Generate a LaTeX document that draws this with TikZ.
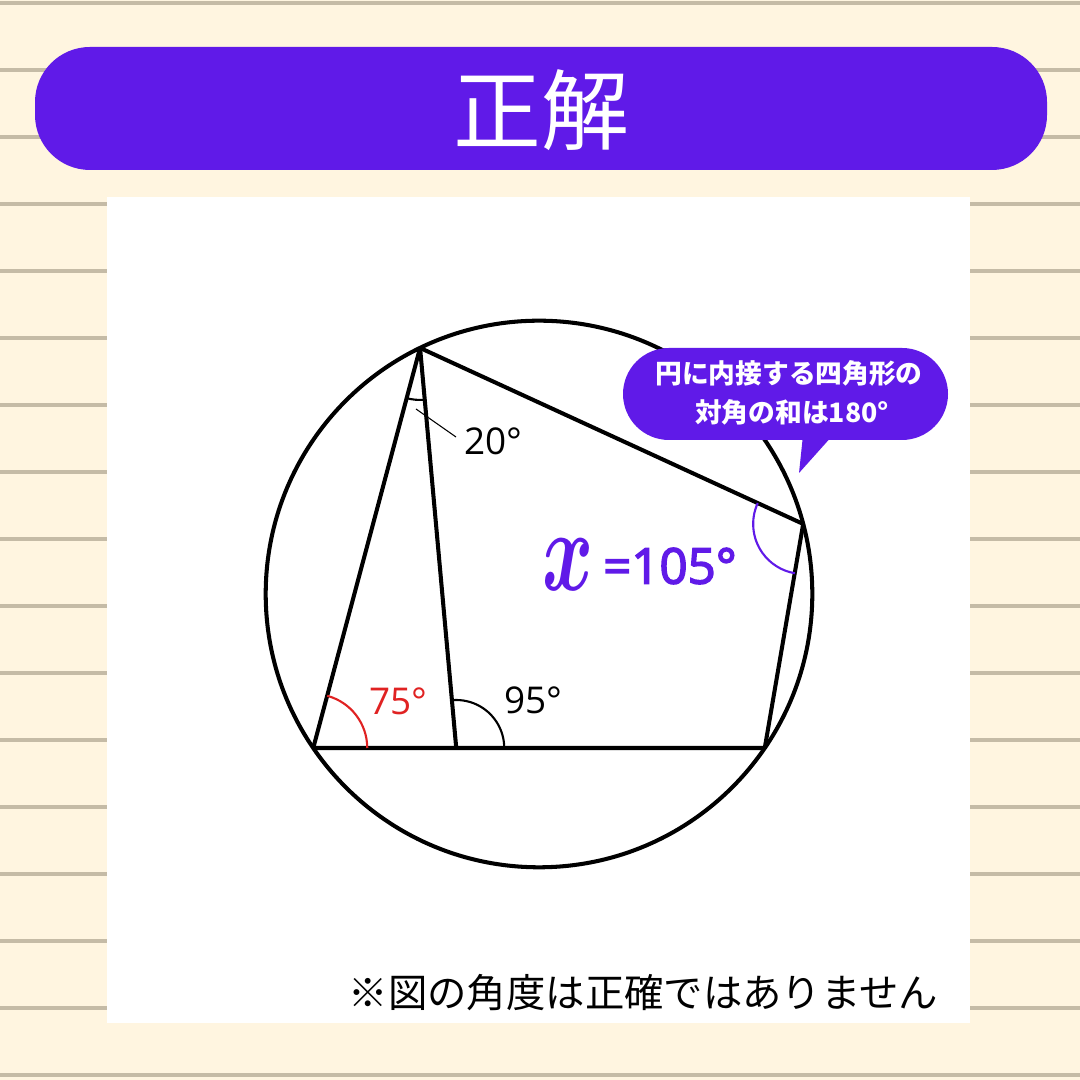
\documentclass[tikz,border=0pt]{standalone}
\usepackage{fix-cm}
\usepackage{fontspec}
\newfontfamily\jpfont{Noto Sans CJK JP}
\newfontfamily\numfont{Open Sans}
\newfontfamily\valuefont[FakeBold=3]{Open Sans}
\definecolor{paper}{HTML}{FFF5E0}
\definecolor{ruleline}{HTML}{C5BBA6}
\definecolor{answerpurple}{HTML}{601AE8}
\definecolor{anglered}{HTML}{E02222}
\tikzset{
    figline/.style={line width=1.15pt, black},
    anglearc/.style={line width=0.6pt},
    anglelabel/.style={font=\numfont\fontsize{10.5}{12}\selectfont, inner sep=0pt},
    bubbletext/.style={text=white, font=\jpfont\bfseries\fontsize{7.6}{9}\selectfont, inner sep=0pt}
}
\begin{document}
\begin{tikzpicture}
    \def\rad{2.733}
    \def\lines{16}

    % lined paper
    \fill[paper] (0,0) rectangle (10.8,10.8);
    \foreach \k in {0,1,...,\lines} {
        \fill[ruleline] (0,{10.79-0.67*\k}) rectangle (10.8,{10.75-0.67*\k});
    }
    \useasboundingbox (0,0) rectangle (10.8,10.8);

    % title bar
    \fill[answerpurple, rounded corners=0.55cm] (0.35,9.10) rectangle (10.47,10.33);
    \node[text=white, font=\jpfont\fontsize{25}{30}\selectfont] (title) at (5.41,9.70) {正解};

    % white sheet
    \fill[white] (1.07,0.57) rectangle (9.70,8.83);

    % circle and inscribed figure
    \coordinate (O) at (5.39,4.86);
    \path (O) ++(115.8:\rad) coordinate (A);
    \path (O) ++(214.3:\rad) coordinate (B);
    \path (O) ++(325.7:\rad) coordinate (D);
    \path (O) ++(14.85:\rad) coordinate (E);
    \path (B) ++(1.43,0) coordinate (C);

    \draw[figline] (O) circle[radius=\rad];
    \draw[figline, line join=round] (B) -- (A) -- (C);
    \draw[figline, line join=round] (B) -- (D) -- (E) -- (A);

    % angle marks
    \draw[anglearc] ([shift={(255:0.52)}]A) arc[start angle=255, end angle=275, radius=0.52];
    \draw[anglearc, anglered] ([shift={(0:0.54)}]B) arc[start angle=0, end angle=75, radius=0.54];
    \draw[anglearc] ([shift={(0:0.48)}]C) arc[start angle=0, end angle=95, radius=0.48];
    \draw[anglearc, answerpurple] ([shift={(155.3:0.5)}]E) arc[start angle=155.3, end angle=260.4, radius=0.5];

    \coordinate (lead1) at (4.16,6.71);
    \coordinate (lead2) at (4.56,6.43);
    \draw[line width=0.3pt] (lead1) -- (lead2);
    \node[anglelabel] (lbl20) at (4.93,6.39) {20°};
    \node[anglelabel, text=anglered] (lbl75) at (3.98,3.79) {75°};
    \node[anglelabel] (lbl95) at (5.33,3.80) {95°};

    % answer
    \node[text=answerpurple, font=\fontsize{33}{36}\selectfont, inner sep=0pt] (xvar) at (5.68,5.15) {\scalebox{0.67}[1]{\boldmath$x$}};
    \node[text=answerpurple, font=\valuefont\fontsize{14}{16}\selectfont, inner sep=0pt] (value) at (6.70,5.14) {=105°};

    % speech bubble
    \fill[answerpurple, rounded corners=0.46cm] (6.23,6.40) rectangle (9.48,7.32);
    \fill[answerpurple] (8.03,6.45) -- (7.99,6.07) -- (8.33,6.45) -- cycle;
    \node[bubbletext] (hint1) at (7.89,7.07) {円に内接する四角形の};
    \node[bubbletext] (hint2) at (7.92,6.68) {対角の和は180°};

    % note
    \node[font=\jpfont\fontsize{11.2}{14}\selectfont, inner sep=0pt] (note) at (6.435,0.87) {※図の角度は正確ではありません};

\end{tikzpicture}
\end{document}
